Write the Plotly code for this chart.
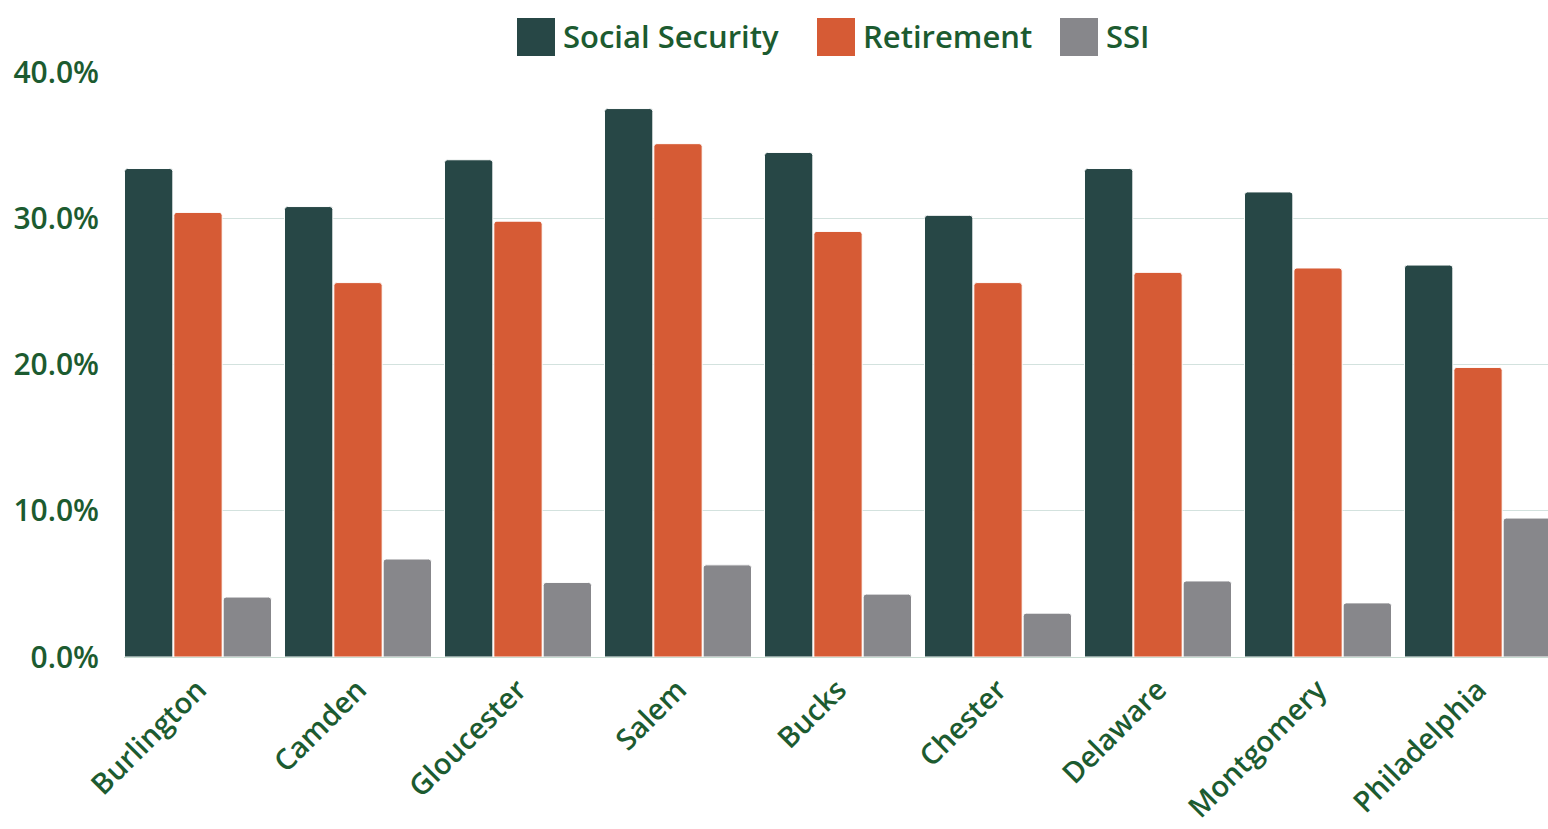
import plotly.graph_objects as go

counties = ["Burlington", "Camden", "Gloucester", "Salem", "Bucks",
            "Chester", "Delaware", "Montgomery", "Philadelphia"]
social_security = [33.4, 30.8, 34.0, 37.5, 34.5, 30.2, 33.4, 31.8, 26.8]
retirement = [30.4, 25.6, 29.8, 35.1, 29.1, 25.6, 26.3, 26.6, 19.8]
ssi = [4.1, 6.7, 5.1, 6.3, 4.3, 3.0, 5.2, 3.7, 9.5]

series_names = ["Social Security", "Retirement", "SSI"]
series_colors = ["#274746", "#D65B35", "#87878B"]
series_values = [social_security, retirement, ssi]

y_tick_values = [0, 10, 20, 30, 40]
y_tick_labels = ["0.0%", "10.0%", "20.0%", "30.0%", "40.0%"]

TEXT = "#1C5B30"
FONT = "Open Sans"
WEIGHT = 600
W, H = 1548, 829
L, R, T, B = 124, 0, 72, 172

fig = go.Figure()
for name, color, vals in zip(series_names, series_colors, series_values):
    fig.add_trace(go.Bar(
        x=counties, y=vals, name=name, showlegend=False,
        marker=dict(color=color, line=dict(color="white", width=1), cornerradius=3),
    ))

fig.update_layout(
    width=W, height=H,
    margin=dict(l=L, r=R, t=T, b=B, pad=0, autoexpand=False),
    paper_bgcolor="white", plot_bgcolor="white",
    barmode="group", bargap=0.075, bargroupgap=0.02,
    font=dict(family=FONT, color=TEXT, size=26, weight=WEIGHT),
)
fig.update_xaxes(
    range=[-0.4625, 8.4375], tickangle=-45, automargin=False,
    tickfont=dict(family=FONT, size=29, color=TEXT, weight=WEIGHT),
    showgrid=False, showline=False, ticks="", ticklabelstandoff=9,
)
fig.update_yaxes(
    range=[0, 40], tickvals=y_tick_values, ticktext=y_tick_labels, automargin=False,
    tickfont=dict(family=FONT, size=30, color=TEXT, weight=WEIGHT),
    gridcolor="#D3E2DE", gridwidth=1, zeroline=True, zerolinecolor="#C8DCD2",
    zerolinewidth=1, showline=False, ticks="", ticklabelstandoff=24,
)

# custom legend with large swatches (paper coordinates)
pw, ph = W - L - R, H - T - B
def px_x(p):
    return (p - L) / pw
def px_y(p):
    return (H - B - p) / ph

legend_x = [517, 817, 1060]
for name, color, x0 in zip(series_names, series_colors, legend_x):
    fig.add_shape(type="rect", xref="paper", yref="paper",
                  x0=px_x(x0), x1=px_x(x0 + 38), y0=px_y(56), y1=px_y(18),
                  fillcolor=color, line=dict(width=0))
    fig.add_annotation(xref="paper", yref="paper", x=px_x(x0 + 44), y=px_y(36),
                       text=name, showarrow=False, xanchor="left", yanchor="middle",
                       font=dict(family=FONT, size=31, color=TEXT, weight=WEIGHT))

fig.write_html("out.html", config={"displayModeBar": False},
               post_script="document.body.style.margin='0';")
